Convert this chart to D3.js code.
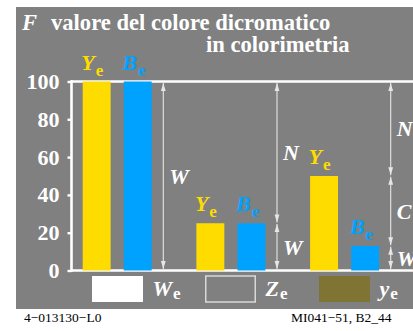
<!DOCTYPE html>
<html>
<head>
<meta charset="utf-8">
<script src="https://cdn.jsdelivr.net/npm/d3@7"></script>
<style>
  html, body { margin: 0; padding: 0; background: #fff; }
  svg { display: block; font-family: "Liberation Serif", "Times New Roman", serif; }
</style>
</head>
<body>
<svg id="chart" width="413" height="331"></svg>
<script>
// Three situations, each with a yellow (Y_e) and a blue (B_e) bar
const groups = ["bianco", "grigio", "cromatico"];
const members = ["Y", "B"];
const yellowValues = [100, 25, 50];
const blueValues = [100, 25, 13];
// Vertical dimension arrows next to each group: [from, to, label]
const arrowSegments = [
  [[0, 100, "W"]],
  [[0, 25, "W"], [25, 100, "N"]],
  [[0, 13, "W"], [13, 50, "C"], [50, 100, "N"]]
];
const yTicks = [0, 20, 40, 60, 80, 100];
const legendItems = [
  { key: "W", fill: "#ffffff", stroke: "none" },
  { key: "Z", fill: "#808080", stroke: "#d8d8d8" },
  { key: "y", fill: "#7f7433", stroke: "none" }
];

const BG = "#808080", YEL = "#ffdc00", BLU = "#00a2ff", LINE = "#e6e6e6";

const svg = d3.select("#chart");

// panel background
svg.append("rect").attr("x", 16).attr("y", 7).attr("width", 397).attr("height", 302).attr("fill", BG);

// title
const title = svg.append("g").attr("fill", "#fff").attr("font-weight", "bold").attr("font-size", 22.6);
title.append("text").attr("x", 22).attr("y", 30).attr("font-style", "italic").text("F");
title.append("text").attr("x", 51).attr("y", 30).text("valore del colore dicromatico");
title.append("text").attr("x", 206).attr("y", 52).text("in colorimetria");

// scales
const y = d3.scaleLinear().domain([0, 100]).range([270.5, 81.5]);
const xGroup = d3.scaleBand().domain(groups).range([82.7, 82.7 + 3 * 113.7]).padding(0);
const xInner = d3.scaleBand().domain(members).range([0, 69]).paddingInner(0.32).paddingOuter(0);
const arrowOffset = 80.6;

// frame lines
const frame = svg.append("g").attr("stroke", "#fff").attr("stroke-width", 2.6);
frame.append("line").attr("x1", 71).attr("x2", 413).attr("y1", y(100)).attr("y2", y(100));
frame.append("line").attr("x1", 71).attr("x2", 413).attr("y1", y(0)).attr("y2", y(0));

// bars with their Y_e / B_e labels
const bars = svg.append("g");
groups.forEach((g, i) => {
  const vals = { Y: yellowValues[i], B: blueValues[i] };
  members.forEach(m => {
    const x0 = xGroup(g) + xInner(m);
    bars.append("rect")
      .attr("x", x0).attr("width", xInner.bandwidth())
      .attr("y", y(vals[m])).attr("height", y(0) - y(vals[m]))
      .attr("fill", m === "Y" ? YEL : BLU);
    const t = bars.append("text")
      .attr("x", x0 - 1.5)
      .attr("y", y(vals[m]) - 12)
      .attr("font-weight", "bold")
      .attr("fill", m === "Y" ? YEL : BLU);
    t.append("tspan").attr("font-style", "italic").attr("font-size", 22).text(m);
    t.append("tspan").attr("font-size", 17).attr("dx", 1).attr("dy", 6).text("e");
  });
});

// y axis
const axis = svg.append("g").attr("transform", "translate(71.5,0)")
  .call(d3.axisLeft(y).tickValues(yTicks).tickSize(4).tickSizeOuter(0).tickPadding(8));
axis.select(".domain").attr("stroke", "#fff").attr("stroke-width", 2.6)
  .attr("d", `M0,${y(100) - 1.3}V${y(0) + 1.3}`);
axis.selectAll(".tick line").attr("stroke", "#fff").attr("stroke-width", 2.4);
axis.selectAll(".tick text").attr("fill", "#fff").attr("font-size", 22)
  .attr("font-weight", "bold").attr("font-family", "Liberation Serif, serif");

// dimension arrows
function arrowHead(g, x, yTip, dir) {
  // dir = -1 points up, +1 points down
  const len = 8, half = 2.4;
  g.append("path")
    .attr("d", `M${x},${yTip}L${x - half},${yTip - dir * len}L${x + half},${yTip - dir * len}Z`)
    .attr("fill", LINE);
}
const arrows = svg.append("g");
groups.forEach((g, i) => {
  const ax = xGroup(g) + arrowOffset;
  arrowSegments[i].forEach(([from, to, label]) => {
    const yTop = y(to) + (to === 100 ? 1.5 : 0.8);
    const yBot = y(from) - (from === 0 ? 1.5 : 0.8);
    arrows.append("line").attr("x1", ax).attr("x2", ax).attr("y1", yTop).attr("y2", yBot)
      .attr("stroke", LINE).attr("stroke-width", 1.1);
    arrowHead(arrows, ax, yTop, -1);
    arrowHead(arrows, ax, yBot, 1);
    arrows.append("text")
      .attr("x", ax + 6).attr("y", (y(from) + y(to)) / 2).attr("dy", "0.35em")
      .attr("fill", "#fff").attr("font-size", 22).attr("font-weight", "bold")
      .attr("font-style", "italic").text(label);
  });
});

// legend
const legend = svg.append("g");
const legendX = [92, 205, 319];
legendItems.forEach((d, i) => {
  legend.append("rect").attr("x", legendX[i] + (d.stroke === "none" ? 0 : 0.75)).attr("y", 276)
    .attr("width", 51 - (d.stroke === "none" ? 0 : 1.5)).attr("height", 26)
    .attr("fill", d.fill).attr("stroke", d.stroke).attr("stroke-width", 1.5);
  const t = legend.append("text").attr("x", legendX[i] + 60.5).attr("y", 296)
    .attr("fill", "#fff").attr("font-weight", "bold");
  t.append("tspan").attr("font-style", "italic").attr("font-size", 22).text(d.key);
  t.append("tspan").attr("font-size", 17).attr("dx", 1).attr("dy", 2.5).text("e");
});

// footer
svg.append("text").attr("x", 24).attr("y", 322).attr("font-size", 13.5).attr("fill", "#000").text("4−013130−L0");
svg.append("text").attr("x", 291).attr("y", 322).attr("font-size", 13.5).attr("fill", "#000").text("MI041−51, B2_44");
</script>
</body>
</html>
